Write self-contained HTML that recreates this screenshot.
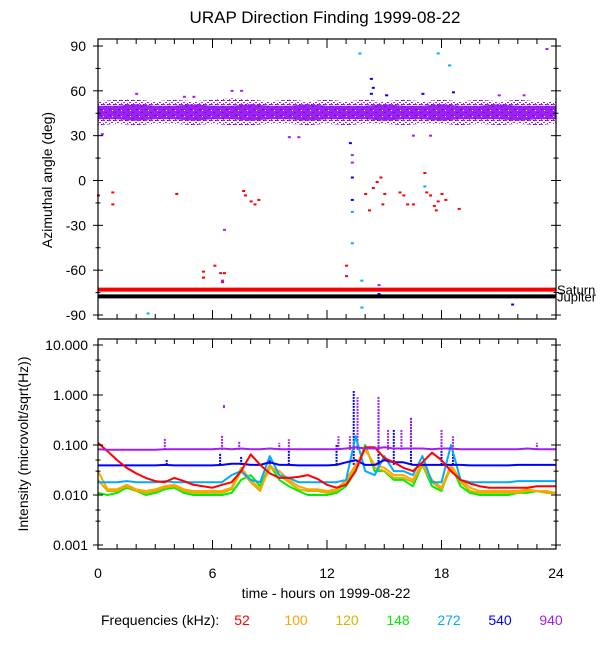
<!DOCTYPE html>
<html><head><meta charset="utf-8"><style>
html,body{margin:0;padding:0;background:#fff;}
svg{display:block;font-family:"Liberation Sans",Arial,sans-serif;}
</style></head><body>
<svg id="c" width="600" height="650" viewBox="0 0 600 650" xmlns="http://www.w3.org/2000/svg">
<text x="325" y="23" font-size="17" text-anchor="middle">URAP Direction Finding  1999-08-22</text>
<text transform="translate(52,180) rotate(-90)" font-size="14" text-anchor="middle">Azimuthal angle (deg)</text>
<text transform="translate(28,444) rotate(-90)" font-size="14" text-anchor="middle">Intensity (microvolt/sqrt(Hz))</text>
<text x="326" y="598" font-size="14" text-anchor="middle">time - hours on 1999-08-22</text>
<g id="legend" font-size="14">
<text x="101" y="625">Frequencies (kHz):</text>
<text x="242" y="625" text-anchor="middle" fill="#ff0000">52</text>
<text x="296" y="625" text-anchor="middle" fill="#ffa500">100</text>
<text x="347" y="625" text-anchor="middle" fill="#d4b400">120</text>
<text x="398" y="625" text-anchor="middle" fill="#00ee00">148</text>
<text x="449" y="625" text-anchor="middle" fill="#00aaff">272</text>
<text x="500" y="625" text-anchor="middle" fill="#0000ff">540</text>
<text x="551" y="625" text-anchor="middle" fill="#a020f0">940</text>
</g>
</svg>
<script>
// ---- data ----
const xTicks = [0, 6, 12, 18, 24];
const angleTicks = [90, 60, 30, 0, -30, -60, -90];
const intensityTicks = [10, 1, 0.1, 0.01, 0.001];
const intensityLabels = ["10.000", "1.000", "0.100", "0.010", "0.001"];
const bandHours = [0,1,2,3,4,5,6,7,8,9,10,11,12,13,14,15,16,17,18,19,20,21,22,23,24];
const bandLow =  [37,38,37,38,38,37,38,37,37,38,38,37,38,37,38,38,37,38,38,37,38,37,38,37,38];
const bandHigh = [53,54,54,53,54,53,54,55,54,53,54,53,54,53,54,53,54,53,54,53,54,53,54,53,53];
const coreLow =  [41,41,40,41,41,40,41,41,40,41,41,40,41,41,41,40,41,41,40,41,41,41,40,41,41];
const coreHigh = [50,50,51,50,50,51,50,50,51,50,50,51,50,50,50,51,50,50,51,50,50,51,50,50,50];
const saturnAngle = -73;
const jupiterAngle = -77.5;
const redT = [0,0.75,0.75,4.1,5.5,5.5,6.1,6.4,6.6,6.5,7.6,7.7,8,8.2,8.4,13,13,14,14.2,14.4,14.6,14.8,14.9,15,15.8,16,16.2,16.5,17.2,17.4,17.6,17.7,17.8,18,18.2,18.9,17.1];
const redA = [-10,-8,-16,-9,-65,-61,-57,-62,-62,-68,-7,-10,-14,-16,-13,-57,-64,-9,-20,-5,-1,2,-16,-9,-8,-10,-16,-16,-8,-10,-17,-20,-14,-9,-13,-19,5];
const cyanT = [2.6,13.7,13.3,13.3,13.8,13.8,17.8,18.4,17.1];
const cyanA = [-89,85,-21,-42,-67,-85,85,77,-4];
const blueT = [14.3,14.3,13.2,13.3,13.3,21.7,14.7,14.4,15.1,17,18.6];
const blueA = [68,58,25,2,-13,-83,-76,62,57,58,59];
const purpT = [6.6,6.5,13.3,13.3,14.7,23.5,10,10.5,16.5,17.4,7,7.5,2,5,21,22.3,0.2,4.5];
const purpA = [-33,-67,17,12,-70,88,29,29,30,30,60,60,58,56,57,57,31,56];
const seriesTimes = [0,0.5,1,1.5,2,2.5,3,3.5,4,4.5,5,5.5,6,6.5,7,7.5,8,8.5,9,9.5,10,10.5,11,11.5,12,12.5,13,13.5,14,14.5,15,15.5,16,16.5,17,17.5,18,18.5,19,19.5,20,20.5,21,21.5,22,22.5,23,23.5,24];
const s52  = [0.11,0.075,0.05,0.035,0.027,0.022,0.019,0.018,0.022,0.019,0.016,0.015,0.014,0.016,0.018,0.03,0.065,0.04,0.027,0.022,0.022,0.023,0.025,0.021,0.016,0.014,0.016,0.03,0.09,0.09,0.055,0.045,0.035,0.03,0.045,0.07,0.05,0.03,0.02,0.017,0.015,0.014,0.014,0.014,0.014,0.014,0.015,0.015,0.015];
const s100 = [0.03,0.013,0.013,0.016,0.013,0.012,0.013,0.015,0.016,0.013,0.012,0.012,0.012,0.012,0.014,0.035,0.02,0.013,0.035,0.03,0.02,0.015,0.013,0.013,0.012,0.013,0.02,0.04,0.08,0.04,0.035,0.025,0.025,0.02,0.045,0.02,0.014,0.04,0.02,0.014,0.012,0.012,0.012,0.012,0.012,0.013,0.012,0.012,0.011];
const s120 = [0.02,0.012,0.012,0.015,0.012,0.011,0.012,0.014,0.015,0.012,0.011,0.011,0.011,0.011,0.013,0.03,0.018,0.012,0.04,0.025,0.018,0.013,0.012,0.012,0.011,0.012,0.018,0.035,0.09,0.035,0.03,0.022,0.022,0.018,0.04,0.018,0.013,0.035,0.018,0.012,0.011,0.011,0.011,0.011,0.011,0.012,0.012,0.011,0.011];
const s148 = [0.011,0.01,0.011,0.014,0.012,0.01,0.011,0.013,0.014,0.011,0.01,0.01,0.01,0.01,0.011,0.02,0.025,0.015,0.04,0.02,0.015,0.012,0.01,0.01,0.01,0.011,0.015,0.03,0.1,0.03,0.03,0.02,0.02,0.015,0.04,0.015,0.012,0.04,0.015,0.011,0.01,0.01,0.01,0.01,0.011,0.011,0.012,0.011,0.011];
const s272 = [0.018,0.018,0.018,0.019,0.018,0.018,0.018,0.019,0.018,0.018,0.018,0.018,0.018,0.018,0.025,0.03,0.02,0.018,0.06,0.025,0.022,0.018,0.018,0.018,0.018,0.018,0.02,0.15,0.03,0.025,0.06,0.03,0.03,0.025,0.06,0.018,0.018,0.1,0.02,0.018,0.018,0.018,0.018,0.018,0.019,0.019,0.019,0.019,0.019];
const s540 = [0.039,0.039,0.039,0.039,0.039,0.039,0.039,0.04,0.039,0.039,0.039,0.039,0.039,0.04,0.042,0.042,0.04,0.04,0.045,0.04,0.04,0.039,0.039,0.039,0.039,0.04,0.045,0.05,0.04,0.04,0.05,0.045,0.045,0.04,0.04,0.04,0.04,0.04,0.04,0.039,0.039,0.039,0.039,0.039,0.04,0.04,0.04,0.04,0.04];
const s940 = [0.082,0.08,0.08,0.08,0.08,0.08,0.08,0.082,0.082,0.082,0.082,0.082,0.082,0.085,0.082,0.085,0.082,0.082,0.085,0.082,0.082,0.082,0.082,0.082,0.082,0.082,0.085,0.09,0.085,0.085,0.09,0.085,0.085,0.085,0.085,0.082,0.085,0.085,0.082,0.082,0.082,0.082,0.082,0.082,0.082,0.085,0.082,0.082,0.082];
const spike540T = [3.6,6.4,7.5,9,10,12.5,13.4,14.7,15.5,16.4,18,18.6];
const spike540V = [0.05,0.07,0.06,0.06,0.08,0.1,1.2,0.5,0.2,0.35,0.12,0.08];
const spike940T = [3.5,6.5,7.4,9.5,10,12.6,13.2,13.6,14.7,15.2,15.9,16.4,18,18.6,23];
const spike940V = [0.14,0.16,0.12,0.11,0.13,0.15,0.15,0.9,0.95,0.2,0.2,0.35,0.2,0.15,0.11];
const spike940PointT = [6.6];
const spike940PointV = [0.6];

// ---- layout ----
const svg = document.getElementById('c');
const NS = 'http://www.w3.org/2000/svg';
const X0 = 98, X1 = 556;
const T0 = 39, T1 = 319, B0 = 339, B1 = 549;
const xs = h => X0 + (X1 - X0) * h / 24;
const ya = a => 46 + (90 - a) * (315 - 46) / 180;
const yi = v => 545 - (Math.log10(v) + 3) * 50;
function el(tag, attrs, parent) {
  const e = document.createElementNS(NS, tag);
  for (const k in attrs) e.setAttribute(k, attrs[k]);
  (parent || svg).appendChild(e);
  return e;
}
const COLORS = {r:'#ff0000',o:'#ffa500',y:'#d4b400',g:'#00ee00',c:'#00aaff',b:'#0000ff',p:'#a020f0'};

const defs = el('defs', {});
const pat = el('pattern', {id:'bandpat', width:'9', height:'6', patternUnits:'userSpaceOnUse'}, defs);
el('rect', {x:0,y:0,width:9,height:6,fill:'#a020f0'}, pat);
el('rect', {x:1,y:1,width:2,height:1,fill:'#2a20f8'}, pat);
el('rect', {x:6,y:4,width:2,height:1,fill:'#6a10f0'}, pat);
el('rect', {x:4,y:2,width:1,height:1,fill:'#ffffff'}, pat);
const pat2 = el('pattern', {id:'edgepat', width:'6', height:'4', patternUnits:'userSpaceOnUse'}, defs);
el('rect', {x:0,y:0,width:3,height:1,fill:'#a020f0'}, pat2);
el('rect', {x:3,y:2,width:2,height:1,fill:'#a020f0'}, pat2);
el('rect', {x:1,y:3,width:1,height:1,fill:'#a020f0'}, pat2);
el('rect', {x:5,y:0,width:1,height:1,fill:'#0000ff'}, pat2);

let outer = [], inner = [];
bandHours.forEach((h,i)=>outer.push(xs(h)+','+ya(bandHigh[i])));
for (let i=bandHours.length-1;i>=0;i--) outer.push(xs(bandHours[i])+','+ya(bandLow[i]));
const bandOuter = el('polygon', {points: outer.join(' '), fill:'url(#edgepat)'});


bandHours.forEach((h,i)=>inner.push(xs(h)+','+ya(coreHigh[i])));
for (let i=bandHours.length-1;i>=0;i--) inner.push(xs(bandHours[i])+','+ya(coreLow[i]));
const bandCore = el('polygon', {points: inner.join(' '), fill:'url(#bandpat)'});



function pts(T, A, col, name) {
  T.forEach((t,i)=>{
    const r = el('rect', {x: xs(t)-1, y: ya(A[i])-1, width: 3, height: 2, fill: col});
    
    
  });
}
pts(redT, redA, COLORS.r, 'point-52khz');
pts(cyanT, cyanA, COLORS.c, 'point-272khz');
pts(blueT, blueA, COLORS.b, 'point-540khz');
pts(purpT, purpA, COLORS.p, 'point-940khz');

const sat = el('line', {x1:X0, x2:X1, y1:ya(saturnAngle), y2:ya(saturnAngle), stroke:'#ff0000', 'stroke-width':4});


const jup = el('line', {x1:X0, x2:X1, y1:ya(jupiterAngle), y2:ya(jupiterAngle), stroke:'#000', 'stroke-width':4});


const satL = el('text', {x:557, y:ya(saturnAngle)+5, 'font-size':13}); satL.textContent='Saturn';


const jupL = el('text', {x:557, y:ya(jupiterAngle)+5, 'font-size':13}); jupL.textContent='Jupiter';



function spikes(T, V, base, col, name) {
  T.forEach((t,i)=>{
    const s = el('line', {x1:xs(t), x2:xs(t), y1:yi(base), y2:yi(V[i]), stroke:col, 'stroke-width':2, 'stroke-dasharray':'2 1'});
    
    
  });
}
spikes(spike540T, spike540V, 0.04, COLORS.b, 'spike-540khz');
spikes(spike940T, spike940V, 0.08, COLORS.p, 'spike-940khz');
spike940PointT.forEach((t,i)=>{
  const r = el('rect', {x:xs(t)-1, y:yi(spike940PointV[i])-1, width:2, height:3, fill:COLORS.p});
  
  
});
const series = [[s148,COLORS.g,'line-148khz'],[s120,COLORS.y,'line-120khz'],[s100,COLORS.o,'line-100khz'],[s272,COLORS.c,'line-272khz'],[s540,COLORS.b,'line-540khz'],[s52,COLORS.r,'line-52khz'],[s940,COLORS.p,'line-940khz']];
series.forEach(([vals,col,name])=>{
  const p = vals.map((v,i)=>xs(seriesTimes[i]).toFixed(1)+','+yi(v).toFixed(1)).join(' ');
  const l = el('polyline', {points:p, fill:'none', stroke:col, 'stroke-width':2, 'stroke-linejoin':'round'});
  
  
});

function frame(y0, y1, name) {
  const f = el('rect', {x:X0, y:y0, width:X1-X0, height:y1-y0, fill:'none', stroke:'#000', 'stroke-width':1.2});
  
  
  for (let h=0; h<=24; h++) {
    const L = h%6===0 ? 9 : 5;
    const x = xs(h);
    const a = el('line', {x1:x,x2:x,y1:y1,y2:y1-L,stroke:'#000'});
    
    
    const b = el('line', {x1:x,x2:x,y1:y0,y2:y0+L,stroke:'#000'});
    
    
  }
}
frame(T0, T1, 'top-plot-frame');
frame(B0, B1, 'bottom-plot-frame');
for (let a=-90; a<=90; a+=15) {
  const L = a%30===0 ? 10 : 5, y = ya(a);
  const t1 = el('line', {x1:X0-L/2,x2:X0+L/2,y1:y,y2:y,stroke:'#000'});
  
  
  const t2 = el('line', {x1:X1-L/2,x2:X1+L/2,y1:y,y2:y,stroke:'#000'});
  
  
}
angleTicks.forEach(a=>{
  const t = el('text', {x:86, y:ya(a)+5, 'font-size':14, 'text-anchor':'end'});
  t.textContent = a;
  
  
});
for (let d=-3; d<=1; d++) {
  for (let m=1; m<=9; m++) {
    if (d===1 && m>1) break;
    if (m!==1 && m!==3 && m!==5) continue;
    const y = yi(m*Math.pow(10,d)), L = m===1 ? 10 : 5;
    const t1 = el('line', {x1:X0-L/2,x2:X0+L/2,y1:y,y2:y,stroke:'#000'});
    
    
    const t2 = el('line', {x1:X1-L/2,x2:X1+L/2,y1:y,y2:y,stroke:'#000'});
    
    
  }
}
intensityTicks.forEach((v,i)=>{
  const t = el('text', {x:88, y:yi(v)+5, 'font-size':14, 'text-anchor':'end'});
  t.textContent = intensityLabels[i];
  
  
});
xTicks.forEach(h=>{
  const t = el('text', {x:xs(h), y:578, 'font-size':14, 'text-anchor':'middle'});
  t.textContent = h;
  
  
});
</script>
</body></html>
